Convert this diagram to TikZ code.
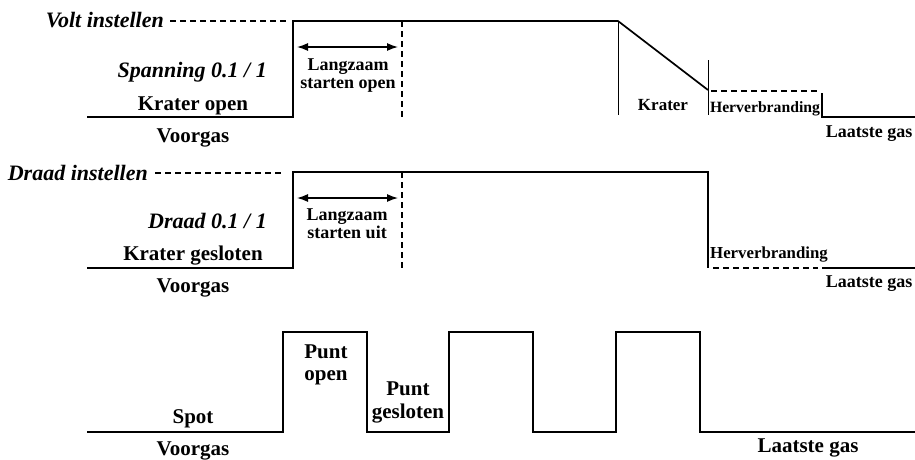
\documentclass[tikz,border=0pt]{standalone}
\usepackage{fontspec}
\setmainfont{Liberation Serif}
\usetikzlibrary{arrows.meta}
\begin{document}
\begin{tikzpicture}[x=1pt,y=-1pt,
  sig/.style={line width=1.7pt,line join=miter},
  guide/.style={line width=1pt},
  dsh/.style={line width=1.5pt,dash pattern=on 6pt off 4pt},
  span/.style={line width=1.3pt,{Latex[length=11pt,width=8pt]}-{Latex[length=11pt,width=8pt]}},
  lbl/.style={inner sep=0pt,anchor=base,font=\bfseries\fontsize{21}{24}\selectfont},
  sub/.style={lbl,font=\bfseries\fontsize{18}{20}\selectfont,align=center},
  ital/.style={inner sep=0pt,anchor=base east,font=\bfseries\itshape\fontsize{22}{24}\selectfont}]
  \useasboundingbox (0,0) rectangle (915,459);
  % volt
  \draw[sig] (87,117) -- (293,117) -- (293,21) -- (618,21) -- (708,90);
  \draw[dsh] (711,91) -- (820,91);
  \draw[sig] (822,93) -- (822,117) -- (915,117);
  \draw[dsh] (170,21) -- (288,21);
  \draw[dsh] (402,21) -- (402,117);
  \draw[guide] (618,21) -- (618,115);
  \draw[guide] (708,60) -- (708,115);
  \coordinate (va) at (297,47);
  \coordinate (vb) at (398,47);
  \draw[span] (va) -- (vb);
  \node[ital] (volt) at (164,27) {Volt instellen};
  \node[ital] (span1) at (267,77) {Spanning 0.1 / 1};
  \node[lbl] (krop) at (193,110) {Krater open};
  \node[lbl] (vg1) at (193,142) {Voorgas};
  \node[sub] (lz1) at (348,70) {Langzaam};
  \node[sub] (lz1b) at (348,88) {starten open};
  \node[sub,font=\bfseries\fontsize{17}{20}\selectfont] (kr) at (663,110) {Krater};
  \node[sub,font=\bfseries\fontsize{15.7}{18}\selectfont] (hv1) at (765,112) {Herverbranding};
  \node[sub] (lg1) at (869,137) {Laatste gas};
  % draad
  \draw[sig] (87,268) -- (293,268) -- (293,172) -- (708,172) -- (708,268);
  \draw[dsh] (713,268) -- (818,268);
  \draw[sig] (822,268) -- (915,268);
  \draw[dsh] (155,173) -- (284,173);
  \draw[dsh] (402,172) -- (402,268);
  \coordinate (da) at (297,198);
  \coordinate (db) at (398,198);
  \draw[span] (da) -- (db);
  \node[ital] (draad) at (148,180) {Draad instellen};
  \node[ital] (span2) at (267,228) {Draad 0.1 / 1};
  \node[lbl] (krgs) at (193,260) {Krater gesloten};
  \node[lbl] (vg2) at (193,292) {Voorgas};
  \node[sub] (lz2) at (347,220) {Langzaam};
  \node[sub] (lz2b) at (347,238) {starten uit};
  \node[sub,font=\bfseries\fontsize{16.8}{18}\selectfont] (hv2) at (769,258) {Herverbranding};
  \node[sub] (lg2) at (869,287) {Laatste gas};
  % spot
  \draw[sig] (87,432) -- (283,432) -- (283,332) -- (367,332) -- (367,432) -- (449,432) -- (449,332)
    -- (533,332) -- (533,432) -- (616,432) -- (616,332) -- (700,332) -- (700,432) -- (915,432);
  \node[lbl] (pop) at (326,358) {Punt};
  \node[lbl] (popb) at (326,380) {open};
  \node[lbl] (pgs) at (408,395) {Punt};
  \node[lbl] (pgsb) at (408,418) {gesloten};
  \node[lbl] (spot) at (193,423) {Spot};
  \node[lbl] (vg3) at (193,455) {Voorgas};
  \node[lbl] (lg3) at (808,452) {Laatste gas};
\end{tikzpicture}
\end{document}
